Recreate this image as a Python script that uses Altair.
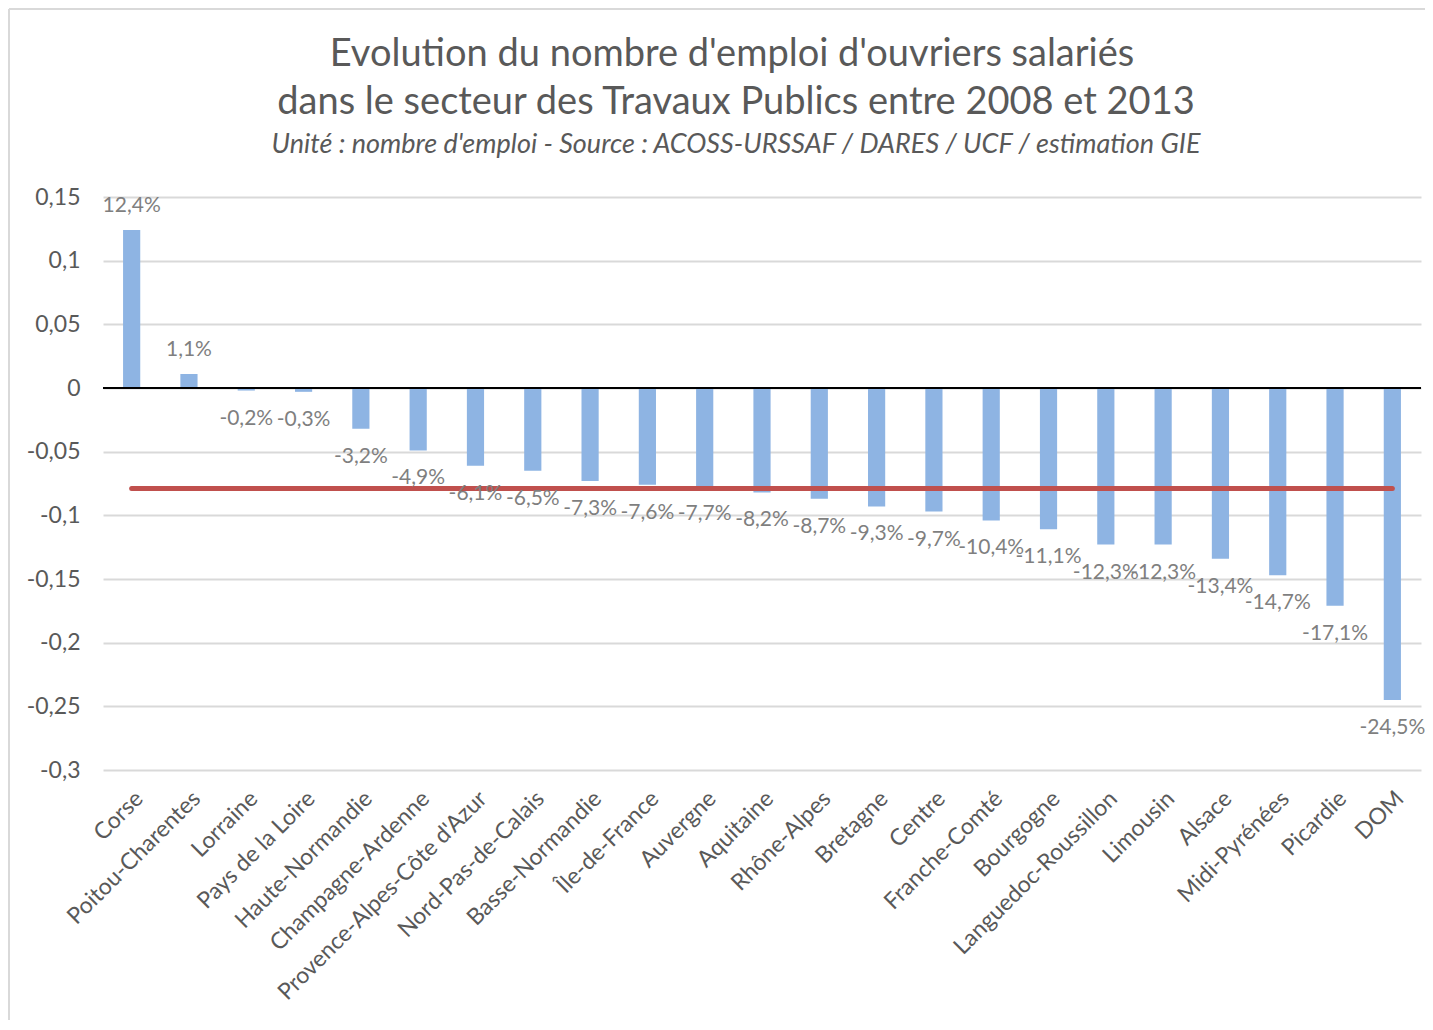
import altair as alt
import pandas as pd

regions = ["Corse", "Poitou-Charentes", "Lorraine", "Pays de la Loire", "Haute-Normandie",
           "Champagne-Ardenne", "Provence-Alpes-Côte d'Azur", "Nord-Pas-de-Calais",
           "Basse-Normandie", "Île-de-France", "Auvergne", "Aquitaine", "Rhône-Alpes",
           "Bretagne", "Centre", "Franche-Comté", "Bourgogne", "Languedoc-Roussillon",
           "Limousin", "Alsace", "Midi-Pyrénées", "Picardie", "DOM"]
values = [0.124, 0.011, -0.002, -0.003, -0.032, -0.049, -0.061, -0.065, -0.073, -0.076,
          -0.077, -0.082, -0.087, -0.093, -0.097, -0.104, -0.111, -0.123, -0.123, -0.134,
          -0.147, -0.171, -0.245]
labels = ["12,4%", "1,1%", "-0,2%", "-0,3%", "-3,2%", "-4,9%", "-6,1%", "-6,5%", "-7,3%",
          "-7,6%", "-7,7%", "-8,2%", "-8,7%", "-9,3%", "-9,7%", "-10,4%", "-11,1%", "-12,3%",
          "-12,3%", "-13,4%", "-14,7%", "-17,1%", "-24,5%"]
average = -0.079
y_ticks = [0.15, 0.1, 0.05, 0, -0.05, -0.1, -0.15, -0.2, -0.25, -0.3]

title_lines = ["Evolution du nombre d'emploi d'ouvriers salariés",
               "dans le secteur des Travaux Publics entre 2008 et 2013"]
subtitle = "Unité : nombre d'emploi - Source : ACOSS-URSSAF / DARES / UCF / estimation GIE"

FONT = "Lato"
GREY = "#595959"

df = pd.DataFrame({"region": regions, "value": values, "label": labels})
avg_df = pd.DataFrame({"start": [regions[0]], "end": [regions[-1]], "avg": [average]})

xscale = alt.Scale(domain=regions, paddingInner=0.7, paddingOuter=0.35)
yscale = alt.Scale(domain=[-0.3, 0.15], nice=False)

xenc = alt.X("region:N", sort=None, title=None, scale=xscale,
             axis=alt.Axis(labelAngle=-45, labelFontSize=23, labelColor=GREY, labelFont=FONT,
                           ticks=False, domain=False, grid=False, labelPadding=17, labelLimit=400))
yenc = alt.Y("value:Q", scale=yscale, title=None,
             axis=alt.Axis(values=y_ticks, grid=True, gridColor="#D9D9D9", gridWidth=2,
                           ticks=False, domain=False, labelFontSize=23, labelColor=GREY,
                           labelFont=FONT, labelPadding=23,
                           labelExpr="replace(replace(format(datum.value, '.2~f'), '.', ','), '\u2212', '-')"))

base = alt.Chart(df)

bars = base.mark_bar(color="#8EB4E3").encode(x=xenc, y=yenc)

zero = alt.Chart(pd.DataFrame({"z": [0]})).mark_rule(color="black", strokeWidth=2).encode(
    y=alt.Y("z:Q", scale=yscale))

xplain = alt.X("region:N", sort=None, scale=xscale)
pos_text = base.transform_filter("datum.value >= 0").mark_text(
    font=FONT, fontSize=21, color="#7F7F7F", dy=-24, baseline="middle").encode(
    x=xplain, y=alt.Y("value:Q", scale=yscale), text="label:N")
neg_text = base.transform_filter("datum.value < 0").mark_text(
    font=FONT, fontSize=21, color="#7F7F7F", dy=28, baseline="middle").encode(
    x=xplain, y=alt.Y("value:Q", scale=yscale), text="label:N")

avg_line = alt.Chart(avg_df).mark_rule(color="#C0504D", strokeWidth=5, strokeCap="round").encode(
    x=alt.X("start:N", sort=None, scale=xscale), x2="end:N", y=alt.Y("avg:Q", scale=yscale))

fdf = pd.DataFrame({"f": [1]})
frame_top = alt.Chart(fdf).mark_rule(color="#D9D9D9", strokeWidth=2).encode(
    x=alt.value(-94), x2=alt.value(1360), y=alt.value(-188))
frame_left = alt.Chart(fdf).mark_rule(color="#D9D9D9", strokeWidth=2).encode(
    x=alt.value(-94), y=alt.value(-188), y2=alt.value(900))

tdf = pd.DataFrame({"t": [0]})
t1 = alt.Chart(tdf).mark_text(font=FONT, fontSize=38, color=GREY, align="center",
                              baseline="middle", text=title_lines[0]).encode(
    x=alt.value(629), y=alt.value(-142))
t2 = alt.Chart(tdf).mark_text(font=FONT, fontSize=38, color=GREY, align="center",
                              baseline="middle", text=title_lines[1]).encode(
    x=alt.value(633), y=alt.value(-94))
t3 = alt.Chart(tdf).mark_text(font=FONT, fontSize=27, fontStyle="italic", color=GREY,
                              align="center", baseline="middle", text=subtitle).encode(
    x=alt.value(633), y=alt.value(-52))

chart = alt.layer(bars, zero, avg_line, pos_text, neg_text, frame_top, frame_left,
                  t1, t2, t3).properties(
    width=1318, height=573,
    view=alt.ViewBackground(stroke="transparent", strokeWidth=0),
    autosize=alt.AutoSizeParams(type="none"),
    padding={"left": 95, "top": 189, "right": 4, "bottom": 250},
).configure_view(strokeWidth=0, stroke="transparent").configure(background="white")

chart.save("out.html", embed_options={"renderer": "svg", "actions": False})
